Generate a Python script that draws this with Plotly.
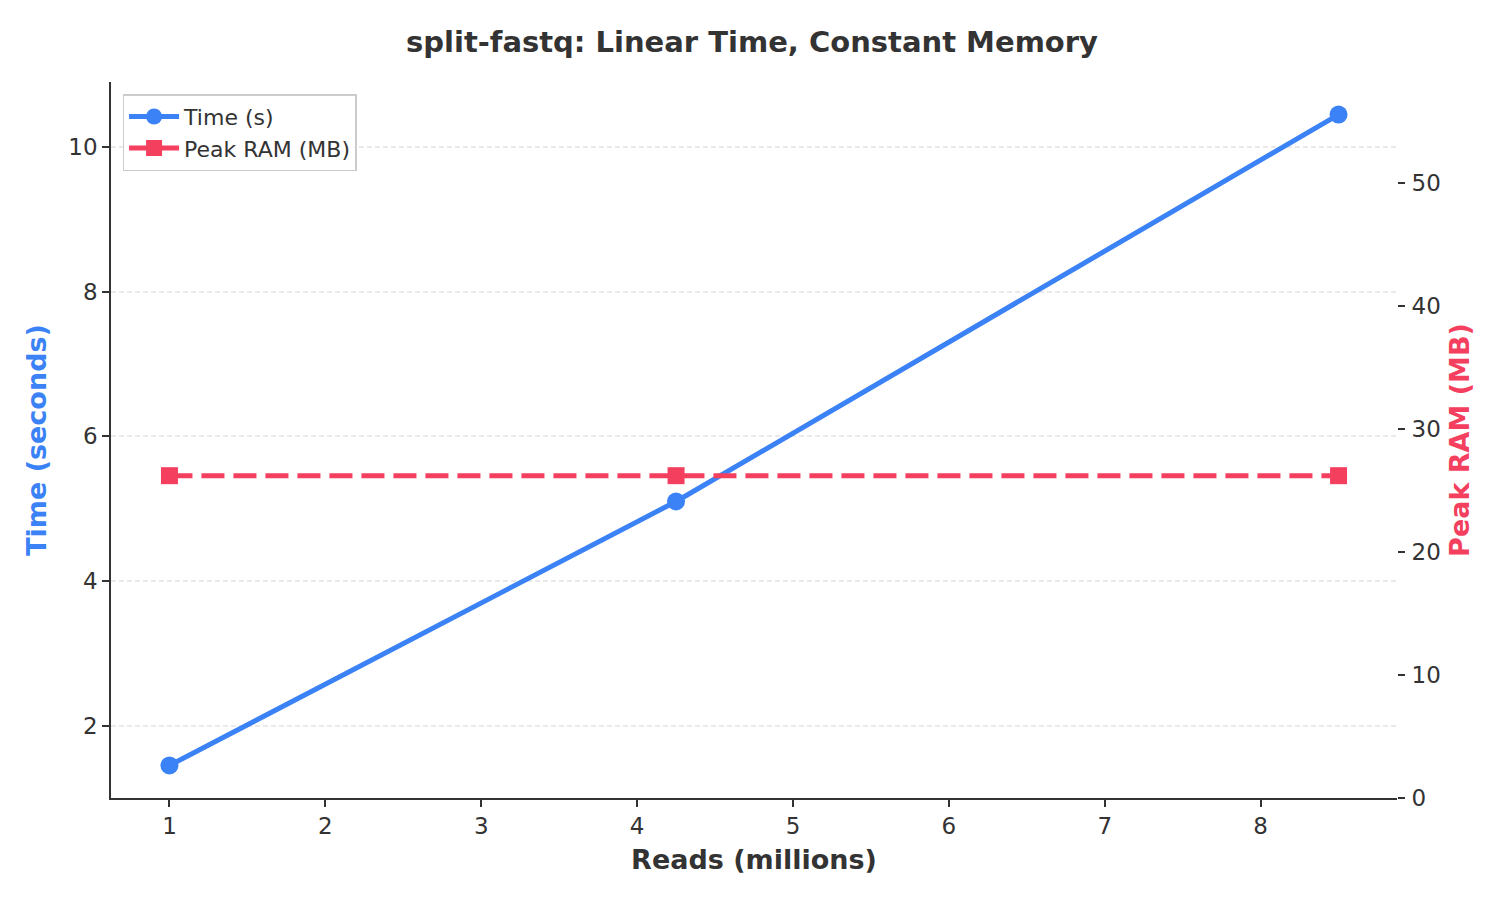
import plotly.graph_objects as go

reads_millions = [1, 4.25, 8.5]
time_seconds = [1.45, 5.1, 10.45]
peak_ram_mb = [26.2, 26.2, 26.2]

left_ticks = [2, 4, 6, 8, 10]
right_ticks = [0, 10, 20, 30, 40, 50]
x_ticks = [1, 2, 3, 4, 5, 6, 7, 8]

BLUE = "#3B82F6"
RED = "#F43F5E"
TXT = "#333333"
FONT = "DejaVu Sans"

fig = go.Figure()
fig.add_trace(go.Scatter(
    x=reads_millions, y=time_seconds, name="Time (s)", mode="lines+markers",
    line=dict(color=BLUE, width=5),
    marker=dict(symbol="circle", size=18, color=BLUE),
    yaxis="y",
))
fig.add_trace(go.Scatter(
    x=reads_millions, y=peak_ram_mb, name="Peak RAM (MB)", mode="lines+markers",
    line=dict(color=RED, width=5, dash="23px,9px"),
    marker=dict(symbol="square", size=17, color=RED),
    yaxis="y2",
))

fig.update_layout(
    width=1504, height=901,
    margin=dict(l=111, r=107, t=82, b=103),
    paper_bgcolor="white", plot_bgcolor="white",
    font=dict(family=FONT, color=TXT, size=23),
    title=dict(text="<b>split-fastq: Linear Time, Constant Memory</b>",
               x=0.5, xanchor="center", y=0.953, yanchor="middle",
               font=dict(size=29, color=TXT, family=FONT)),
    xaxis=dict(
        range=[0.625, 8.875], tickvals=x_ticks, showgrid=False, zeroline=False,
        showline=True, linecolor=TXT, linewidth=1.5,
        ticks="outside", ticklen=7, tickwidth=1.5, tickcolor=TXT,
        tickfont=dict(size=23, color=TXT),
        title=dict(text="<b>Reads (millions)</b>", font=dict(size=27, color=TXT), standoff=12),
    ),
    yaxis=dict(
        range=[1.0, 10.9], tickvals=left_ticks, zeroline=False,
        showgrid=True, gridcolor="#e9e9e9", gridwidth=1.5, griddash="5px,3px",
        showline=True, linecolor=TXT, linewidth=1.5,
        ticks="outside", ticklen=7, tickwidth=1.5, tickcolor=TXT,
        tickfont=dict(size=23, color=TXT),
        title=dict(text="<b>Time (seconds)</b>", font=dict(size=27, color=BLUE), standoff=14),
    ),
    yaxis2=dict(
        range=[0, 58.2], tickvals=right_ticks, overlaying="y", side="right",
        showgrid=False, zeroline=False, showline=False,
        ticks="outside", ticklen=7, tickwidth=1.5, tickcolor=TXT,
        ticklabelstandoff=2,
        tickfont=dict(size=23, color=TXT),
        title=dict(text="<b>Peak RAM (MB)</b>", font=dict(size=27, color=RED), standoff=10),
    ),
    legend=dict(
        x=0.009, y=0.983, xanchor="left", yanchor="top",
        bgcolor="rgba(255,255,255,0.8)", bordercolor="#cccccc", borderwidth=1.5,
        font=dict(size=22, color=TXT), itemwidth=50,
    ),
    showlegend=True,
)

fig.write_html("out.html")
